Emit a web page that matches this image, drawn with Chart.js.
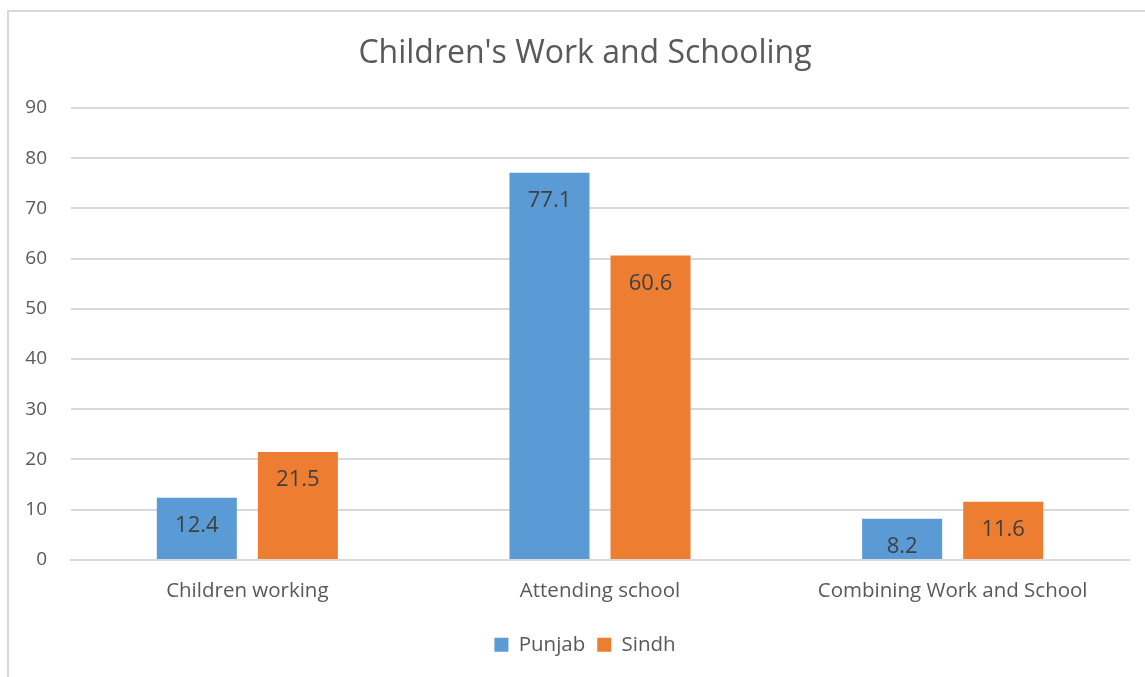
<!DOCTYPE html>
<html lang="en">
<head>
    <meta charset="utf-8">
    <script src="https://cdn.jsdelivr.net/npm/chart.js@4.4.1/dist/chart.umd.min.js"></script>
    <style>
        html, body { margin: 0; padding: 0; background: #fff; overflow: hidden; }
        .frame {
            position: absolute; left: 7px; top: 10px; width: 1200px; height: 720px;
            border: 2px solid #d9d9d9; box-sizing: border-box;
        }
        .wrap { position: absolute; left: 0; top: 0; width: 1170px; height: 677px; }
    </style>
</head>
<body>
<div class="frame"></div>
<div class="wrap">
    <canvas id="chart-bar"></canvas>
</div>

<script type="text/javascript">
    var categories = ["Children working", "Attending school", "Combining Work and School"];
    var punjab = [12.4, 77.1, 8.2];
    var sindh = [21.5, 60.6, 11.6];
    var yTicks = [0, 10, 20, 30, 40, 50, 60, 70, 80, 90];

    var fontFamily = "'Open Sans', 'Noto Sans', sans-serif";

    // value labels drawn inside each bar, just under its top
    var valueLabels = {
        id: 'valueLabels',
        afterDatasetsDraw: function (chart) {
            var ctx = chart.ctx;
            ctx.save();
            ctx.font = "22px " + fontFamily;
            ctx.fillStyle = "#404040";
            ctx.textAlign = "center";
            ctx.textBaseline = "middle";
            chart.data.datasets.forEach(function (ds, i) {
                chart.getDatasetMeta(i).data.forEach(function (bar, j) {
                    ctx.fillText(ds.data[j].toFixed(1), bar.x, bar.y + 28);
                });
            });
            ctx.restore();
        }
    };

    new Chart(document.getElementById("chart-bar"), {
        type: 'bar',
        data: {
            labels: categories,
            datasets: [{
                label: "Punjab",
                data: punjab,
                backgroundColor: "#5b9bd5",
                borderWidth: 0,
                categoryPercentage: 0.573,
                barPercentage: 0.792
            }, {
                label: "Sindh",
                data: sindh,
                backgroundColor: "#ed7d31",
                borderWidth: 0,
                categoryPercentage: 0.573,
                barPercentage: 0.792
            }]
        },
        plugins: [valueLabels],
        options: {
            responsive: true,
            maintainAspectRatio: false,
            animation: false,
            layout: {
                padding: { top: 35, left: 7, right: 7, bottom: 12 }
            },
            plugins: {
                title: {
                    display: true,
                    text: "Children's Work and Schooling",
                    color: "#595959",
                    font: { family: fontFamily, size: 32, weight: 'normal' },
                    padding: { top: 0, bottom: 34.6 }
                },
                legend: {
                    position: 'bottom',
                    labels: {
                        color: "#595959",
                        font: { family: fontFamily, size: 20.5 },
                        boxWidth: 14,
                        boxHeight: 14,
                        padding: 12
                    }
                },
                tooltip: { enabled: false }
            },
            scales: {
                x: {
                    grid: { display: false, drawTicks: false },
                    border: { display: true, color: "#d9d9d9", width: 2 },
                    ticks: {
                        color: "#595959",
                        font: { family: fontFamily, size: 20.5 },
                        padding: 19
                    }
                },
                y: {
                    min: 0,
                    max: 90,
                    afterFit: function (scale) { scale.width = 64; },
                    afterBuildTicks: function (scale) {
                        scale.ticks = yTicks.map(function (v) { return { value: v }; });
                    },
                    grid: { color: "#d9d9d9", lineWidth: 2, drawTicks: false },
                    border: { display: false },
                    ticks: {
                        color: "#595959",
                        font: { family: fontFamily, size: 19 },
                        padding: 24
                    }
                },
                // empty right gutter so title and legend sit a little right of centre
                gutter: {
                    type: 'linear',
                    position: 'right',
                    afterFit: function (scale) { scale.width = 34; },
                    grid: { display: false, drawTicks: false },
                    border: { display: false },
                    ticks: { display: false }
                }
            }
        }
    });
</script>
</body>
</html>
